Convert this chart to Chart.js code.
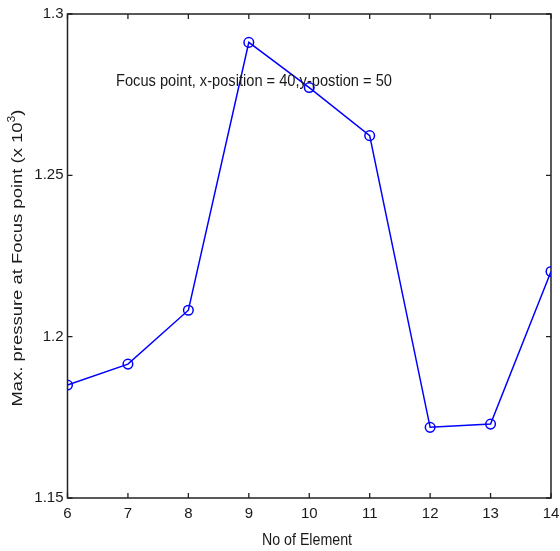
<!DOCTYPE html>
<html>
<head>
<meta charset="utf-8">
<script src="https://cdn.jsdelivr.net/npm/chart.js@4.4.0/dist/chart.umd.min.js"></script>
<style>
  html, body { margin: 0; padding: 0; background: #fff; }
  #wrap { width: 560px; height: 551px; }
</style>
</head>
<body>
<div id="wrap"><canvas id="pressureChart"></canvas></div>
<script>
// element count vs. max pressure at focus point (x 10^3)
const elements = [6, 7, 8, 9, 10, 11, 12, 13, 14];
const maxPressure = [1.185, 1.1915, 1.2082, 1.2912, 1.2772, 1.2623, 1.1719, 1.1729, 1.2202];
const yTicks = [1.15, 1.2, 1.25, 1.3];
const yTickLabels = ['1.15', '1.2', '1.25', '1.3'];
const xTicks = [6, 7, 8, 9, 10, 11, 12, 13, 14];

const INK = '#1a1a1a';
const FONT = '"Liberation Sans", Arial, sans-serif';

// draws text squeezed/stretched to a given width (matlab-ish narrow labels)
function fitText(ctx, text, x, y, width, size, align) {
  ctx.save();
  ctx.font = size + 'px ' + FONT;
  const w = ctx.measureText(text).width;
  const sx = width / w;
  ctx.translate(x, y);
  ctx.scale(sx, 1);
  ctx.textAlign = align || 'left';
  ctx.textBaseline = 'middle';
  ctx.fillStyle = INK;
  ctx.fillText(text, 0, 0);
  ctx.restore();
}

// box around the axes + inward ticks on all four sides
const boxPlugin = {
  id: 'matlabBox',
  beforeDatasetsDraw(chart) {
    const { ctx, chartArea: a, scales } = chart;
    ctx.save();
    ctx.strokeStyle = '#222';
    ctx.lineWidth = 1.5;
    ctx.strokeRect(a.left, a.top, a.right - a.left, a.bottom - a.top);
    ctx.lineWidth = 1.3;
    const len = 5;
    ctx.beginPath();
    xTicks.forEach(v => {
      const px = scales.x.getPixelForValue(v);
      ctx.moveTo(px, a.bottom); ctx.lineTo(px, a.bottom - len);
      ctx.moveTo(px, a.top); ctx.lineTo(px, a.top + len);
    });
    yTicks.forEach(v => {
      const py = scales.y.getPixelForValue(v);
      ctx.moveTo(a.left, py); ctx.lineTo(a.left + len, py);
      ctx.moveTo(a.right, py); ctx.lineTo(a.right - len, py);
    });
    ctx.stroke();
    ctx.restore();
  },
  afterDraw(chart) {
    const { ctx, chartArea: a } = chart;
    // annotation inside the plot
    fitText(ctx, 'Focus point, x-position = 40,y-postion = 50', a.left + 48.5, a.top + 68, 276, 16);
    // x title
    fitText(ctx, 'No of Element', 307, 541, 90, 16, 'center');
    // y title with superscript exponent
    ctx.save();
    ctx.translate(18, 258);
    ctx.rotate(-Math.PI / 2);
    const main = 'Max. pressure at Focus point (x 10';
    ctx.font = '15px ' + FONT;
    const wMain = ctx.measureText(main).width;
    ctx.font = '10px ' + FONT;
    const wSup = ctx.measureText('3').width;
    ctx.font = '15px ' + FONT;
    const wEnd = ctx.measureText(')').width;
    const total = wMain + wSup + wEnd;
    const sx = 297 / total;
    ctx.scale(sx, 1);
    ctx.fillStyle = INK;
    ctx.textBaseline = 'middle';
    ctx.textAlign = 'left';
    const x0 = -total / 2;
    ctx.font = '15px ' + FONT;
    ctx.fillText(main, x0, 0);
    ctx.font = '10px ' + FONT;
    ctx.fillText('3', x0 + wMain, -6);
    ctx.font = '15px ' + FONT;
    ctx.fillText(')', x0 + wMain + wSup, 0);
    ctx.restore();
  }
};

new Chart(document.getElementById('pressureChart').getContext('2d'), {
  type: 'line',
  data: {
    datasets: [{
      data: elements.map((e, i) => ({ x: e, y: maxPressure[i] })),
      borderColor: '#0000ff',
      borderWidth: 1.5,
      backgroundColor: 'rgba(0,0,0,0)',
      pointRadius: 4.8,
      pointBorderWidth: 1.5,
      pointBorderColor: '#0000ff',
      pointBackgroundColor: 'rgba(0,0,0,0)',
      tension: 0,
      fill: false
    }]
  },
  options: {
    responsive: true,
    maintainAspectRatio: false,
    animation: false,
    layout: { padding: { top: 14, right: 0, left: 0, bottom: 0 } },
    plugins: { legend: { display: false }, tooltip: { enabled: false } },
    scales: {
      x: {
        type: 'linear',
        min: 6, max: 14,
        afterBuildTicks: s => { s.ticks = xTicks.map(v => ({ value: v })); },
        afterFit: s => { s.height = 53; s.paddingRight = 9; s.paddingLeft = 0; },
        grid: { display: false, drawTicks: false },
        border: { display: false },
        ticks: {
          padding: 7,
          color: INK,
          font: { family: FONT, size: 15 },
          callback: v => String(v)
        }
      },
      y: {
        min: 1.15, max: 1.3,
        afterBuildTicks: s => { s.ticks = yTicks.map(v => ({ value: v })); },
        afterFit: s => { s.width = 67.5; },
        grid: { display: false, drawTicks: false },
        border: { display: false },
        ticks: {
          padding: 4,
          color: INK,
          font: { family: FONT, size: 15 },
          callback: (v) => {
            const i = yTicks.findIndex(t => Math.abs(t - v) < 1e-9);
            return i >= 0 ? yTickLabels[i] : '';
          }
        }
      }
    }
  },
  plugins: [boxPlugin]
});
</script>
</body>
</html>
